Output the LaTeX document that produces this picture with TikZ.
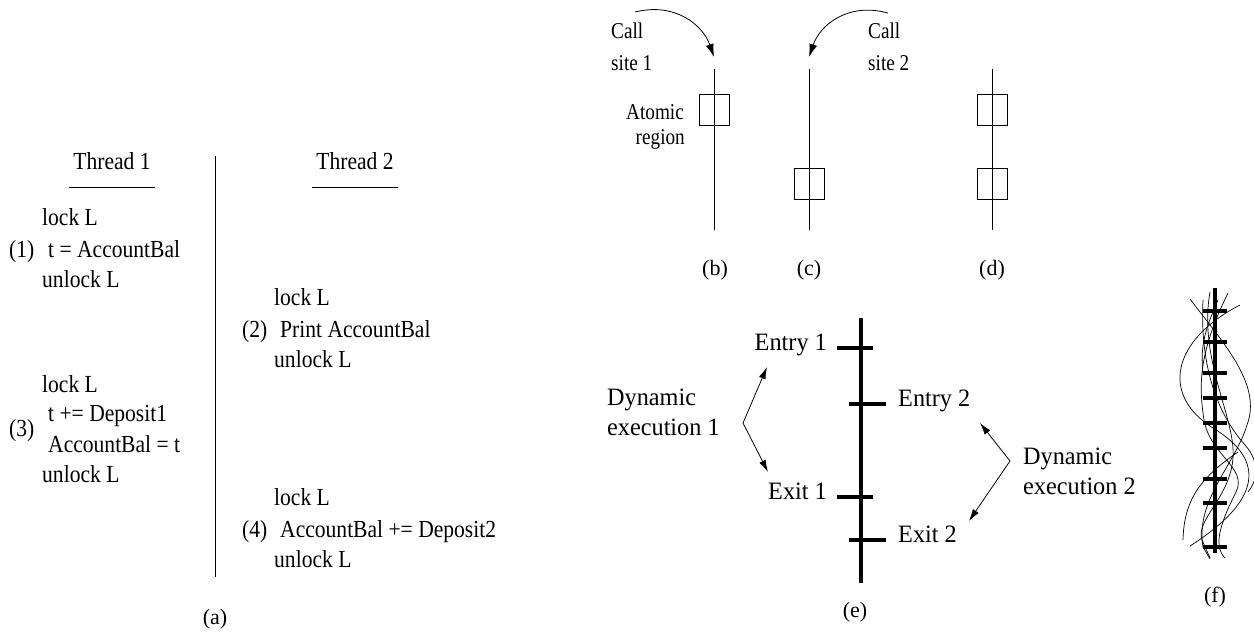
\documentclass[tikz,border=0pt]{standalone}
\usepackage{fontspec}
\setmainfont{Liberation Serif}
\newfontfamily\fontA{Liberation Serif}[FakeStretch=0.88]
\newfontfamily\fontB{Liberation Serif}[FakeStretch=0.85]
\newfontfamily\fontE{Liberation Serif}[FakeStretch=0.97]
\usetikzlibrary{arrows.meta}
\begin{document}
\begin{tikzpicture}[x=1pt,y=-1pt,
  txa/.style={font=\fontA\fontsize{24.5}{28}\selectfont, inner sep=0pt, text height=1.5ex, text depth=0.25ex},
  txb/.style={font=\fontB\fontsize{22.6}{26}\selectfont, inner sep=0pt, text height=1.5ex, text depth=0.25ex},
  txe/.style={font=\fontE\fontsize{25}{29}\selectfont, inner sep=0pt, text height=1.5ex, text depth=0.25ex},
  lbl/.style={font=\fontsize{22}{26}\selectfont, inner sep=0pt, text height=1.5ex, text depth=0.25ex},
  thinline/.style={line width=0.8pt},
  region/.style={draw, line width=0.9pt, minimum width=30pt, minimum height=31pt, inner sep=0pt},
  spine/.style={line width=4.5pt},
  tickmark/.style={line width=4pt},
  arr/.style={line width=0.8pt, -{Latex[length=13pt,width=8pt]}},
  darr/.style={line width=0.8pt, {Latex[length=12pt,width=7pt]}-{Latex[length=12pt,width=7pt]}},
  wave/.style={line width=0.7pt}
]
\useasboundingbox (0,0) rectangle (1254,634);

% ---------------- (a) ----------------
\node[txa] (th1) at (112,167) {Thread 1};
\node[txa] (th2) at (355,167) {Thread 2};
\draw[thinline] (69,187) coordinate (u1a) -- (155,187) coordinate (u1b);
\draw[thinline] (312,187) coordinate (u2a) -- (398,187) coordinate (u2b);
\coordinate (septop) at (215,156);
\coordinate (sepbot) at (215,577);
\draw[thinline] (septop) -- (sepbot);

\node[txa, anchor=west] (l1a) at (42,223) {lock L};
\node[txa, anchor=west] (n1) at (9,255) {(1)};
\node[txa, anchor=west] (l1b) at (48,255) {t = AccountBal};
\node[txa, anchor=west] (l1c) at (42,285) {unlock L};

\node[txa, anchor=west] (l3a) at (42,390) {lock L};
\node[txa, anchor=west] (l3b) at (48,419) {t += Deposit1};
\node[txa, anchor=west] (n3) at (9,434) {(3)};
\node[txa, anchor=west] (l3c) at (48,450) {AccountBal = t};
\node[txa, anchor=west] (l3d) at (42,480) {unlock L};

\node[txa, anchor=west] (l2a) at (274,303) {lock L};
\node[txa, anchor=west] (n2) at (242,335) {(2)};
\node[txa, anchor=west] (l2b) at (280,335) {Print AccountBal};
\node[txa, anchor=west] (l2c) at (274,365) {unlock L};

\node[txa, anchor=west] (l4a) at (274,503) {lock L};
\node[txa, anchor=west] (n4) at (242,535) {(4)};
\node[txa, anchor=west] (l4b) at (280,535) {AccountBal += Deposit2};
\node[txa, anchor=west] (l4c) at (274,565) {unlock L};

\node[lbl] (capa) at (215,622) {(a)};

% ---------------- (b) (c) (d) ----------------
\coordinate (btop) at (714,69);
\coordinate (bbot) at (714,230);
\coordinate (ctop) at (809,69);
\coordinate (cbot) at (809,230);
\coordinate (dtop) at (992,69);
\coordinate (dbot) at (992,230);
\draw[thinline] (btop) -- (bbot);
\draw[thinline] (ctop) -- (cbot);
\draw[thinline] (dtop) -- (dbot);
\node[region] (rb) at (714,109.5) {};
\node[region] (rc) at (809,183.5) {};
\node[region] (rd1) at (992,109.5) {};
\node[region] (rd2) at (992,183.5) {};

\node[txb, anchor=west] (call1) at (611,36) {Call};
\node[txb, anchor=west] (site1) at (611,68) {site 1};
\node[txb, anchor=west] (call2) at (868,36) {Call};
\node[txb, anchor=west] (site2) at (868,68) {site 2};
\node[txb, anchor=east] (atom) at (684,117) {Atomic};
\node[txb, anchor=east] (regn) at (685,142) {region};

\coordinate (cs1) at (635,12);
\coordinate (cs1end) at (714,57);
\coordinate (cs2) at (888,13);
\coordinate (cs2end) at (809,57);
\draw[arr] (cs1) .. controls (675,2) and (703,25) .. (cs1end);
\draw[arr] (cs2) .. controls (848,2) and (820,25) .. (cs2end);

\node[lbl] (capb) at (715,273) {(b)};
\node[lbl] (capc) at (809,273) {(c)};
\node[lbl] (capd) at (992,273) {(d)};

% ---------------- (e) ----------------
\coordinate (etop) at (861,318);
\coordinate (ebot) at (861,583);
\draw[spine] (etop) -- (ebot);
\draw[tickmark] (837,348) coordinate (en1a) -- (873,348) coordinate (en1b);
\draw[tickmark] (849,404) coordinate (en2a) -- (886,404) coordinate (en2b);
\draw[tickmark] (837,497) coordinate (ex1a) -- (873,497) coordinate (ex1b);
\draw[tickmark] (849,540) coordinate (ex2a) -- (886,540) coordinate (ex2b);

\node[txe, anchor=east] (entry1) at (827,348) {Entry 1};
\node[txe, anchor=west] (entry2) at (898,404) {Entry 2};
\node[txe, anchor=east] (exit1) at (827,497) {Exit 1};
\node[txe, anchor=west] (exit2) at (898,540) {Exit 2};

\node[txe, anchor=west] (dyn1) at (607,403) {Dynamic};
\node[txe, anchor=west] (exe1) at (607,433) {execution 1};
\node[txe, anchor=west] (dyn2) at (1023,462) {Dynamic};
\node[txe, anchor=west] (exe2) at (1023,492) {execution 2};

\coordinate (v1) at (743,423);
\coordinate (t1a) at (767,367);
\coordinate (t1b) at (768,472);
\coordinate (v2) at (1010,461);
\coordinate (t2a) at (980,423);
\coordinate (t2b) at (969,521);
\draw[darr] (t1a) -- (v1) -- (t1b);
\draw[darr] (t2a) -- (v2) -- (t2b);

\node[lbl] (cape) at (855,615) {(e)};

% ---------------- (f) ----------------
\draw[wave] (1190,299) .. controls (1225,345) and (1262,385) .. (1247,425)
            .. controls (1235,465) and (1195,500) .. (1203,547) -- (1210,559);
\draw[wave] (1240,305) .. controls (1172,340) and (1160,395) .. (1213,428)
            .. controls (1266,460) and (1262,500) .. (1190,546);
\draw[wave] (1210,292) .. controls (1198,360) and (1236,418) .. (1233,458)
            .. controls (1230,498) and (1195,520) .. (1202,540) -- (1210,558);
\draw[wave] (1228,293) .. controls (1200,350) and (1198,382) .. (1204,420)
            .. controls (1210,455) and (1248,468) .. (1236,492)
            .. controls (1222,520) and (1212,545) .. (1225,558);
\draw[wave] (1203,300) .. controls (1200,360) and (1214,410) .. (1245,445)
            .. controls (1260,462) and (1258,480) .. (1248,492);
\draw[wave] (1183,540) .. controls (1184,500) and (1200,478) .. (1238,452);
\draw[wave] (1218,300) .. controls (1205,330) and (1200,345) .. (1203,375);

\coordinate (ftop) at (1215,288);
\coordinate (fbot) at (1215,553);
\draw[spine] (ftop) -- (fbot);
\foreach \yy [count=\i] in {311,342,373,398,423,448,479,503,547} {
  \draw[tickmark] (1203,\yy) coordinate (fa\i) -- (1227,\yy) coordinate (fb\i);
}
\node[lbl] (capf) at (1215,600) {(f)};
\end{tikzpicture}
\end{document}
